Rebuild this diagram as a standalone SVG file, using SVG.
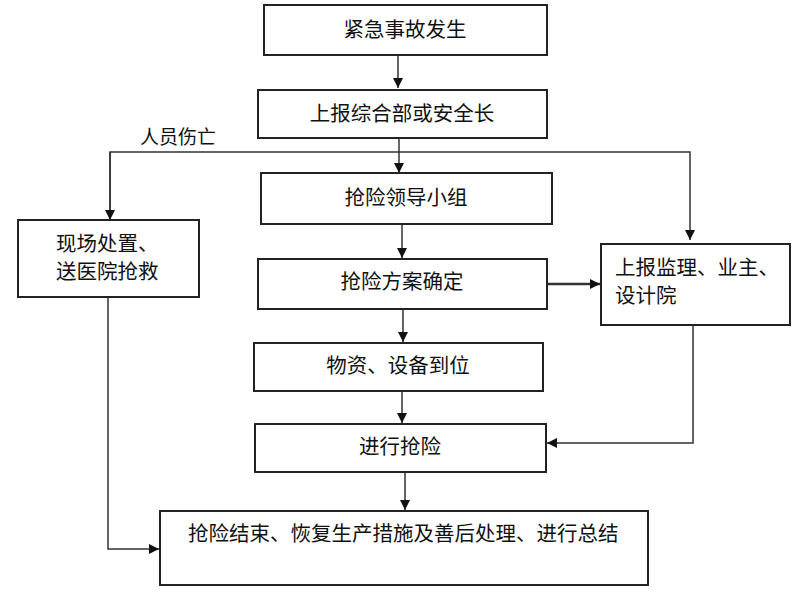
<svg xmlns="http://www.w3.org/2000/svg" width="800" height="600" viewBox="0 0 800 600">
<style>
.box{fill:#fff;stroke:#222;stroke-width:2}
.t{font-family:"Noto Sans CJK SC","Liberation Sans",sans-serif;font-size:20.5px;fill:#111}
.c{text-anchor:middle}
.ln{fill:none;stroke:#333;stroke-width:1.5}
</style>
<defs>
<marker id="ah" viewBox="0 0 10 10" refX="10" refY="5" markerWidth="10" markerHeight="10" markerUnits="userSpaceOnUse" orient="auto">
<path d="M0,0 L10,5 L0,10 z" fill="#111"/>
</marker>
</defs>
<rect width="800" height="600" fill="#fff"/>
<g id="connectors">
<path class="ln" d="M398,55 V88" marker-end="url(#ah)"/>
<path class="ln" d="M399,138 V173" marker-end="url(#ah)"/>
<path class="ln" d="M110,220 V152 H690 V240" marker-end="url(#ah)"/>
<path class="ln" d="M110,152 V220" marker-end="url(#ah)"/>
<path class="ln" d="M402,224 V258" marker-end="url(#ah)"/>
<path class="ln" d="M547,284 H600" marker-end="url(#ah)" style="stroke-width:2.5"/>
<path class="ln" d="M403,309 V342" marker-end="url(#ah)"/>
<path class="ln" d="M402,391 V423" marker-end="url(#ah)"/>
<path class="ln" d="M693,325 V443 H547" marker-end="url(#ah)"/>
<path class="ln" d="M405,472 V510" marker-end="url(#ah)"/>
<path class="ln" d="M108,297 V549 H159" marker-end="url(#ah)"/>
<text class="t" x="140" y="144" style="font-size:19px">人员伤亡</text>
</g>
<g id="n1"><rect class="box" x="264" y="5" width="283" height="50"/><text class="t c" x="405" y="37">紧急事故发生</text></g>
<g id="n2"><rect class="box" x="258" y="90" width="289" height="48"/><text class="t c" x="402" y="121">上报综合部或安全长</text></g>
<g id="n3"><rect class="box" x="261" y="173" width="291" height="51"/><text class="t c" x="406" y="205">抢险领导小组</text></g>
<g id="n4"><rect class="box" x="18" y="220" width="181" height="77"/><text class="t" x="56" y="251">现场处置、</text><text class="t" x="56" y="279">送医院抢救</text></g>
<g id="n5"><rect class="box" x="601" y="244" width="189" height="81"/><text class="t" x="615" y="275">上报监理、业主、</text><text class="t" x="615" y="303">设计院</text></g>
<g id="n6"><rect class="box" x="258" y="259" width="289" height="50"/><text class="t c" x="402" y="289">抢险方案确定</text></g>
<g id="n7"><rect class="box" x="254" y="343" width="289" height="48"/><text class="t c" x="398" y="373">物资、设备到位</text></g>
<g id="n8"><rect class="box" x="255" y="424" width="291" height="48"/><text class="t c" x="400" y="454">进行抢险</text></g>
<g id="n9"><rect class="box" x="160" y="511" width="488" height="74"/><text class="t" x="188" y="541">抢险结束、恢复生产措施及善后处理、进行总结</text></g>
</svg>
